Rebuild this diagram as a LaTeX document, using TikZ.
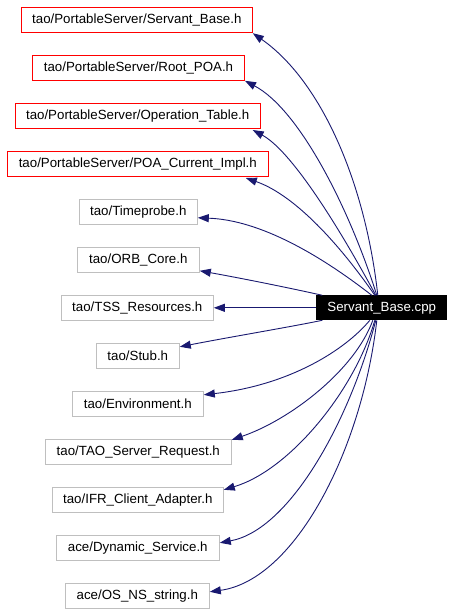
\documentclass[tikz,border=0pt]{standalone}
\usepackage{fontspec}
\setmainfont{Liberation Sans}
\usetikzlibrary{arrows.meta,calc}
\definecolor{greyseventyfive}{RGB}{191,191,191}
\definecolor{midblue}{RGB}{25,25,112}
\begin{document}
\begin{tikzpicture}[x=1pt,y=-1pt,
  box/.style={draw, line width=1pt, inner sep=0pt, minimum height=25pt,
    font=\fontsize{13.3}{16}\selectfont, anchor=center},
  redbox/.style={box, draw=red},
  greybox/.style={box, draw=greyseventyfive},
  mainbox/.style={box, fill=black, draw=black, text=white, minimum height=24pt},
  edge/.style={draw=midblue, line width=0.9pt, -{Triangle[length=11pt,width=8pt]}}]
\useasboundingbox (0,0) rectangle (453,613);
\fill[white] (0,0) rectangle (453,613);

\node[redbox, minimum width=231pt] (sb) at (136.8,20.2) {tao/PortableServer/Servant\_Base.h};
\node[redbox, minimum width=212pt] (rp) at (138.5,67.8) {tao/PortableServer/Root\_POA.h};
\node[redbox, minimum width=245pt] (ot) at (137.7,116) {tao/PortableServer/Operation\_Table.h};
\node[redbox, minimum width=261pt] (pc) at (137.8,164) {tao/PortableServer/POA\_Current\_Impl.h};
\node[greybox, minimum width=118pt] (tp) at (138.3,211.8) {tao/Timeprobe.h};
\node[greybox, minimum width=122pt] (oc) at (138.3,259.8) {tao/ORB\_Core.h};
\node[greybox, minimum width=152pt] (tss) at (137.3,307.8) {tao/TSS\_Resources.h};
\node[mainbox, minimum width=130pt] (cpp) at (381.8,307.8) {Servant\_Base.cpp};
\node[greybox, minimum width=83pt] (stub) at (137.8,355.8) {tao/Stub.h};
\node[greybox, minimum width=131pt] (env) at (137.8,403.8) {tao/Environment.h};
\node[greybox, minimum width=186pt] (tsr) at (138.3,451.8) {tao/TAO\_Server\_Request.h};
\node[greybox, minimum width=171pt] (ifr) at (137.8,499.8) {tao/IFR\_Client\_Adapter.h};
\node[greybox, minimum width=163pt] (ds) at (137.8,547.8) {ace/Dynamic\_Service.h};
\node[greybox, minimum width=144pt] (ons) at (137.3,595.8) {ace/OS\_NS\_string.h};

\draw[edge] ($(cpp.north)+(-4,0)$) .. controls (365,180) and (320,80) .. (sb.south east);
\draw[edge] ($(cpp.north)+(-5,0)$) .. controls (350,210) and (300,110) .. (rp.south east);
\draw[edge] ($(cpp.north)+(-6,0)$) .. controls (335,220) and (290,150) .. ($(ot.south east)+(-8,1)$);
\draw[edge] ($(cpp.north)+(-7,0)$) .. controls (340,245) and (295,195) .. ($(pc.south east)+(-23,1)$);
\draw[edge] ($(cpp.north)+(-10,0)$) .. controls (320,255) and (260,220) .. ($(tp.east)+(0,6)$);
\draw[edge] ($(cpp.north west)+(6,0)$) .. controls (290,288) and (240,278) .. ($(oc.south east)+(0,-2)$);
\draw[edge] (cpp.west) -- (tss.east);
\draw[edge] ($(cpp.south west)+(6,0)$) .. controls (290,327) and (230,337) .. ($(stub.east)+(0,-9)$);
\draw[edge] ($(cpp.south)+(-12,0)$) .. controls (345,350) and (290,385) .. ($(env.north east)+(0,4)$);
\draw[edge] ($(cpp.south)+(-9,0)$) .. controls (355,370) and (290,420) .. ($(tsr.north east)+(0,1)$);
\draw[edge] ($(cpp.south)+(-7,0)$) .. controls (355,390) and (290,470) .. ($(ifr.north east)+(0,3)$);
\draw[edge] ($(cpp.south)+(-6,0)$) .. controls (350,420) and (290,530) .. ($(ds.east)+(0,-5)$);
\draw[edge] ($(cpp.south)+(-5,0)$) .. controls (362,450) and (295,580) .. ($(ons.east)+(0,-4)$);
\end{tikzpicture}
\end{document}
